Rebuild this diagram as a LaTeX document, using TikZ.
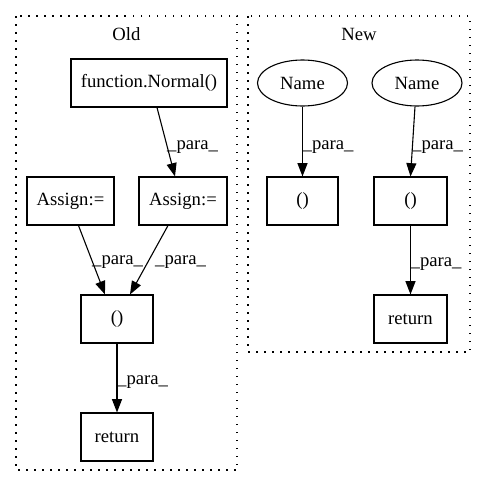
\documentclass[tikz,border=0pt]{standalone}
\usepackage{fontspec}
\setmainfont{Liberation Serif}
\usetikzlibrary{arrows.meta,shapes.geometric}
\begin{document}
\begin{tikzpicture}[x=1pt,y=-1pt,
  every node/.style={font=\fontsize{18.67}{22}\selectfont},
  box/.style={draw,line width=1.1pt,minimum height=48pt,inner sep=0pt},
  oval/.style={draw,ellipse,line width=1.1pt,minimum width=90pt,minimum height=46pt,inner sep=0pt},
  cluster/.style={draw,line width=1.1pt,dash pattern=on 1.5pt off 6.5pt},
  edge/.style={line width=1.1pt,-{Triangle[length=13.3pt,width=10pt]}},
  lab/.style={anchor=west,inner sep=0pt}]
\useasboundingbox (0,0) rectangle (487,488);
% clusters
\draw[cluster] (16,16) rectangle (237,470);
\draw[cluster] (248,16) rectangle (470,352);
\node (oldt) at (126.5,34) {Old};
\node (newt) at (359,34) {New};
% Old nodes
\node[box,minimum width=156pt] (fn) at (149,83) {function.Normal()};
\node[box,minimum width=87pt] (aL) at (70.5,201) {Assign:=};
\node[box,minimum width=88pt] (aR) at (183,201) {Assign:=};
\node[box,minimum width=72pt] (p1) at (117,319) {()};
\node[box,minimum width=72pt] (r1) at (117,437) {return};
% New nodes
\node[oval] (n1) at (302.5,83) {Name};
\node[oval] (n2) at (417,83) {Name};
\node[box,minimum width=71pt] (p2) at (302.5,201) {()};
\node[box,minimum width=73pt] (p3) at (410.5,201) {()};
\node[box,minimum width=73pt] (r2) at (410.5,319) {return};
% edges
\draw[edge] ([xshift=8pt]fn.south) -- ([xshift=-8pt]aR.north);
\draw[edge] ([xshift=8pt]aL.south) -- ([xshift=-12pt]p1.north);
\draw[edge] ([xshift=-15pt]aR.south) -- ([xshift=13pt]p1.north);
\draw[edge] (p1) -- (r1);
\draw[edge] (n1) -- (p2);
\draw[edge] ([xshift=-2pt]n2.south) -- (p3.north);
\draw[edge] (p3) -- (r2);
% labels
\node[lab] (l1) at (167,147) {\_para\_};
\node[lab] (l2) at (92,262) {\_para\_};
\node[lab] (l3) at (155,262) {\_para\_};
\node[lab] (l4) at (117,382) {\_para\_};
\node[lab] (l5) at (302.5,147) {\_para\_};
\node[lab] (l6) at (412,147) {\_para\_};
\node[lab] (l7) at (410.5,264) {\_para\_};
\end{tikzpicture}
\end{document}
